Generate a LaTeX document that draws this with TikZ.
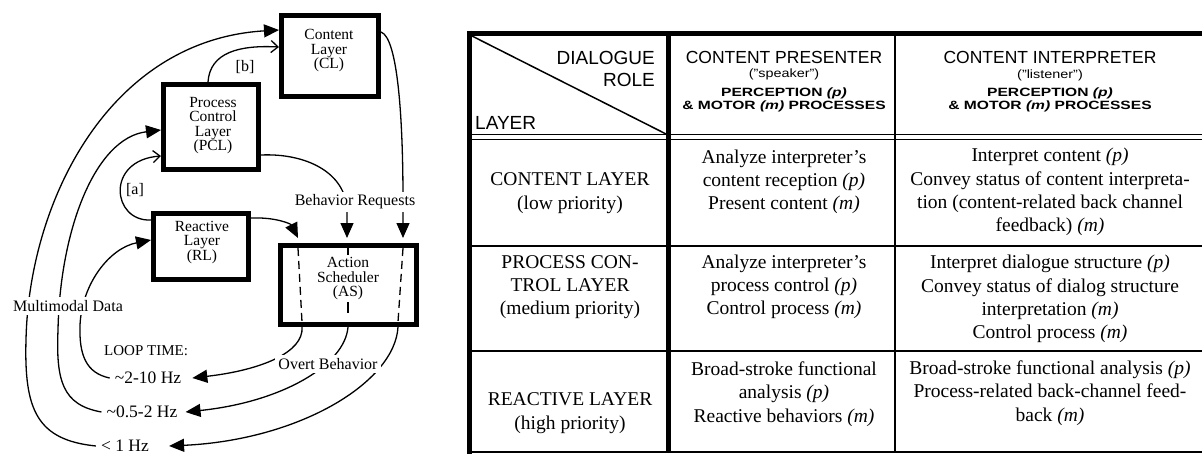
\documentclass[tikz,border=0pt]{standalone}
\usepackage{fontspec}
\setmainfont{Liberation Serif}
\setsansfont{Liberation Sans}
\usetikzlibrary{arrows.meta}
\tikzset{
 layerbox/.style={draw, line width=5pt, inner sep=0pt},
 boxtext/.style={align=center, inner sep=0pt, font=\fontsize{15.5}{14.5}\selectfont},
 conn/.style={line width=1.3pt},
 filledarrow/.style={-{Triangle[length=15pt,width=13pt]}},
 openarrow/.style={-{Straight Barb[length=7pt,width=12pt]}},
 lbl/.style={fill=white, inner sep=3pt, font=\fontsize{16}{18}\selectfont},
 plainlbl/.style={inner sep=0pt, font=\fontsize{16}{18}\selectfont},
 freqlbl/.style={inner xsep=5pt, inner ysep=2pt, font=\fontsize{17.5}{20}\selectfont},
 dashline/.style={line width=1.3pt, dash pattern=on 8pt off 5pt},
 cellt/.style={align=center, inner sep=0pt, font=\fontsize{19.5}{23.3}\selectfont},
 hdrbig/.style={inner sep=0pt, font=\sffamily\fontsize{19}{22}\selectfont},
 hdr/.style={inner sep=0pt, font=\sffamily\fontsize{17.5}{20}\selectfont},
 hdrsub/.style={inner sep=0pt, font=\sffamily\fontsize{12}{14}\selectfont},
 tabthick/.style={line width=5pt},
 tabthin/.style={line width=1.5pt},
}
\begin{document}
\begin{tikzpicture}[x=1pt,y=-1pt]
\fill[white] (0,0) rectangle (1202,455);
\useasboundingbox (0,0) rectangle (1202,455);

% ---------- layer boxes ----------
\node[layerbox, minimum width=97pt, minimum height=81pt] (cl) at (330,56) {};
\node[layerbox, minimum width=95pt, minimum height=85pt] (pcl) at (211,127) {};
\node[layerbox, minimum width=95pt, minimum height=66pt] (rl) at (201,246.5) {};
\node[layerbox, minimum width=136pt, minimum height=79pt] (as) at (348.5,285) {};
\node[boxtext] (clt) at (329,51) {Content\\Layer\\(CL)};
\node[boxtext] (pclt) at (213,125.5) {Process\\Control\\Layer\\(PCL)};
\node[boxtext] (rlt) at (202,242.5) {Reactive\\Layer\\(RL)};
\node[boxtext] (ast) at (348,279) {Action\\Scheduler\\(AS)};

% ---------- loop time labels ----------
\node[freqlbl] (f1) at (148,378) {\textasciitilde 2-10 Hz};
\node[freqlbl] (f2) at (142,412) {\textasciitilde 0.5-2 Hz};
\node[freqlbl] (f3) at (125,446) {< 1 Hz};
\node[inner sep=0pt, anchor=west, font=\fontsize{15}{17}\selectfont] (lt) at (104,351) {LOOP TIME:};

% ---------- multimodal loops ----------
\draw[conn, filledarrow] (f3.west) .. controls (37,440) and (24,410) .. (26,340)
   .. controls (29,200) and (110,40) .. (cl.west |- 0,30);
\draw[conn, filledarrow] (f2.west) .. controls (62,405) and (56,380) .. (58,330)
   .. controls (60,230) and (95,138) .. (pcl.west |- 0,130);
\draw[conn, filledarrow] (f1.west) .. controls (86,373) and (79,355) .. (80,325)
   .. controls (82,283) and (110,248) .. (rl.west |- 0,240);

% ---------- [a] and [b] ----------
\draw[conn, openarrow] (rl.west |- 0,220) .. controls (112,222) and (105,160) .. (pcl.west |- 0,156);
\draw[conn, openarrow] (208,0 |- pcl.north) .. controls (210,52) and (240,45) .. (cl.west |- 0,47);
\node[plainlbl] (la) at (135,190) {[a]};
\node[plainlbl] (lb) at (245,67) {[b]};

% ---------- behavior requests ----------
\coordinate (asin1) at (298,238);
\coordinate (asin2) at (347,238);
\coordinate (asin3) at (403,238);
\draw[conn, filledarrow] (rl.east |- 0,218) .. controls (276,217) and (291,224) .. (asin1);
\draw[conn, filledarrow] (pcl.east |- 0,155) .. controls (305,153) and (347,172) .. (347,212) -- (asin2);
\draw[conn, filledarrow] (cl.east |- 0,32) .. controls (398,38) and (403,120) .. (403,200) -- (asin3);

% dashed pass-through lines inside the scheduler
\draw[dashline] (298,248) -- (302,322);
\draw[conn] (348,248) -- (348,255);
\draw[conn] (348,302) -- (348,313);
\draw[dashline] (403,248) -- (398,322);

% ---------- overt behavior ----------
\draw[conn, filledarrow] (302,0 |- as.south) .. controls (304,352) and (262,370) .. ([xshift=6pt]f1.east);
\draw[conn, filledarrow] (348,0 |- as.south) .. controls (345,365) and (282,402) .. ([xshift=3pt]f2.east);
\draw[conn, filledarrow] (398,0 |- as.south) .. controls (395,382) and (300,440) .. ([xshift=15pt]f3.east);

\node[lbl] (br) at (355,202) {Behavior Requests};
\node[lbl] (ob) at (328,364) {Overt Behavior};
\node[lbl] (md) at (68,306) {Multimodal Data};

% ---------- table ----------
\draw[tabthin] (472,36) -- (668,135);
\draw[tabthin] (467,134.5) -- (1202,134.5);
\draw[tabthin] (467,139.5) -- (1202,139.5);
\draw[tabthin] (467,246) -- (1202,246);
\draw[tabthin] (467,351) -- (1202,351);
\draw[line width=2pt] (467,452) -- (1202,452);
\draw[tabthin] (895,33) -- (895,452);
\draw[tabthick] (668.5,33) -- (668.5,453);
\draw[tabthick] (467,33) -- (1202,33);
\draw[tabthick] (469.5,30.5) -- (469.5,454);

\node[hdrbig, anchor=east] (dlg) at (655,58) {DIALOGUE};
\node[hdrbig, anchor=east] (role) at (655,80) {ROLE};
\node[hdrbig, anchor=west] (lay) at (475,123) {LAYER};

\node[hdr] (cp) at (784,57) {CONTENT PRESENTER};
\node[hdrsub] (cps) at (784,74) {\scalebox{1.2}[1]{("speaker")}};
\node[hdrsub] (cpp) at (784,93.5) {\scalebox{1.3}[1]{\bfseries PERCEPTION \textit{(p)}}};
\node[hdrsub] (cpm) at (784,106) {\scalebox{1.3}[1]{\bfseries \& MOTOR \textit{(m)} PROCESSES}};

\node[hdr] (ci) at (1050,57) {CONTENT INTERPRETER};
\node[hdrsub] (cis) at (1050,75) {\scalebox{1.2}[1]{("listener")}};
\node[hdrsub] (cip) at (1050,93.5) {\scalebox{1.3}[1]{\bfseries PERCEPTION \textit{(p)}}};
\node[hdrsub] (cim) at (1050,106) {\scalebox{1.3}[1]{\bfseries \& MOTOR \textit{(m)} PROCESSES}};

\node[cellt] (r1a) at (570,193) {CONTENT LAYER\\(low priority)};
\node[cellt] (r1b) at (784,182) {Analyze interpreter's\\content reception \textit{(p)}\\Present content \textit{(m)}};
\node[cellt] (r1c) at (1050,192) {Interpret content \textit{(p)}\\Convey status of content interpreta-\\tion (content-related back channel\\feedback) \textit{(m)}};

\node[cellt] (r2a) at (570,287) {PROCESS CON-\\TROL LAYER\\(medium priority)};
\node[cellt] (r2b) at (784,287) {Analyze interpreter's\\process control \textit{(p)}\\Control process \textit{(m)}};
\node[cellt] (r2c) at (1050,299) {Interpret dialogue structure \textit{(p)}\\Convey status of dialog structure\\interpretation \textit{(m)}\\Control process \textit{(m)}};

\node[cellt] (r3a) at (570,413) {REACTIVE LAYER\\(high priority)};
\node[cellt] (r3b) at (784,394) {Broad-stroke functional\\analysis \textit{(p)}\\Reactive behaviors \textit{(m)}};
\node[cellt] (r3c) at (1050,393) {Broad-stroke functional analysis \textit{(p)}\\Process-related back-channel feed-\\back \textit{(m)}};
\end{tikzpicture}
\end{document}
